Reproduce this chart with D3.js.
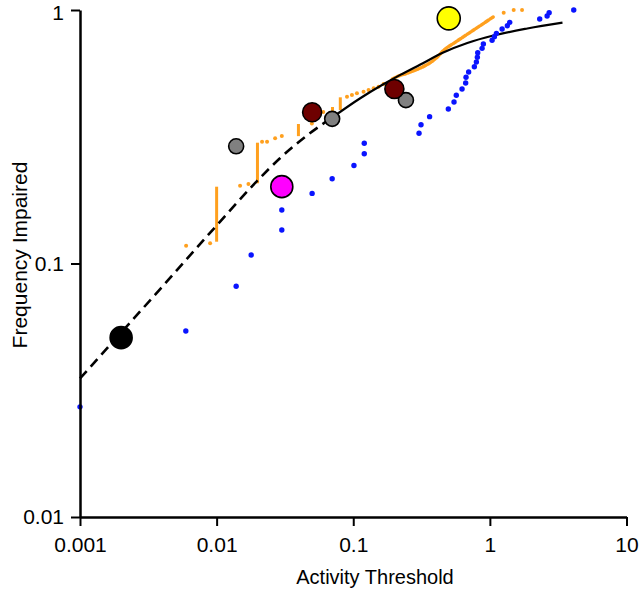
<!DOCTYPE html>
<html>
<head>
<meta charset="utf-8">
<script src="https://cdn.jsdelivr.net/npm/d3@7"></script>
<style>
  body { margin: 0; background: #fff; }
  svg text { font-family: "Liberation Sans", Arial, sans-serif; fill: #000; }
</style>
</head>
<body>
<svg id="chart" width="640" height="590"></svg>
<script>
// tick labels
const xTicks = [0.001, 0.01, 0.1, 1, 10];
const yTicks = [0.01, 0.1, 1];

// fitted curve (dashed part, then solid part)
const modelDashed = [[0.001, 0.0352], [0.00199, 0.0532], [0.00386, 0.0793], [0.01, 0.1412],
  [0.0201, 0.2135], [0.0292, 0.2607], [0.0458, 0.3198], [0.0701, 0.3766]];
const modelSolid = [[0.0701, 0.3766], [0.1125, 0.4488], [0.166, 0.5093], [0.221, 0.5546],
  [0.31, 0.6095], [0.456, 0.6798], [0.684, 0.741], [1.06, 0.793], [1.88, 0.8452], [3.4, 0.891]];

// orange series: isolated dots, vertical runs (x, y0, y1) and the dense upper trail
const orangeDots = [[0.00598, 0.1175], [0.00896, 0.1201], [0.01485, 0.2027], [0.0171, 0.2059],
  [0.0215, 0.302], [0.0234, 0.302], [0.0268, 0.3118], [0.030, 0.3184], [0.0498, 0.357],
  [0.0603, 0.396], [0.09, 0.455], [0.0978, 0.462], [0.1064, 0.469], [0.119, 0.476],
  [0.1295, 0.4835], [0.141, 0.491], [0.1532, 0.498], [0.1667, 0.5105], [0.1814, 0.517],
  [1.262, 0.976], [1.494, 1.0], [1.72, 1.0]];
const orangeSteps = [[0.01, 0.1219, 0.2009], [0.0199, 0.2072, 0.2996], [0.0397, 0.318, 0.355],
  [0.0705, 0.396, 0.4143], [0.0804, 0.403, 0.4524]];
const orangeTrail = [[0.193, 0.534], [0.209, 0.546], [0.2474, 0.563], [0.3096, 0.59],
  [0.3665, 0.62], [0.41, 0.65], [0.4586, 0.693], [0.543, 0.739], [0.643, 0.785],
  [0.761, 0.834], [0.901, 0.886], [1.066, 0.941]];

// blue series
const bluePoints = [[0.001, 0.0272], [0.00595, 0.0542], [0.0139, 0.0813], [0.0179, 0.108],
  [0.030, 0.1355], [0.030, 0.1626], [0.05, 0.189], [0.0701, 0.216], [0.1012, 0.2435],
  [0.1204, 0.271], [0.1204, 0.298], [0.303, 0.3263], [0.3133, 0.3528], [0.3622, 0.3795],
  [0.4966, 0.407], [0.5466, 0.4336], [0.568, 0.4607], [0.6256, 0.488], [0.665, 0.515],
  [0.669, 0.5427], [0.6993, 0.5693], [0.77, 0.5974], [0.7965, 0.6235], [0.81, 0.6507],
  [0.815, 0.6785], [0.877, 0.706], [0.896, 0.734], [1.038, 0.7594], [1.079, 0.785],
  [1.116, 0.809], [1.229, 0.8415], [1.343, 0.867], [1.397, 0.894], [2.316, 0.921],
  [2.624, 0.947], [2.715, 0.976], [4.11, 1.0]];

// large markers: x, y, colour, radius
const markers = [
  [0.002, 0.051, "#000000", 11],
  [0.030, 0.201, "#ff00ff", 11],
  [0.0139, 0.29, "#808080", 7.5],
  [0.0701, 0.372, "#808080", 7.5],
  [0.243, 0.441, "#808080", 7.5],
  [0.05, 0.395, "#6e0000", 9.5],
  [0.2, 0.488, "#6e0000", 9.5],
  [0.5, 0.927, "#ffff00", 11.5]
];

const svg = d3.select('#chart');
const x = d3.scaleLog().domain([0.001, 10]).range([80, 626.5]);
const y = d3.scaleLog().domain([0.01, 1]).range([517, 10]);

const line = d3.line().x(d => x(d[0])).y(d => y(d[1])).curve(d3.curveMonotoneX);

// orange
const orange = '#ffa01e';
svg.append('path').attr('d', line(orangeTrail))
  .attr('fill', 'none').attr('stroke', orange).attr('stroke-width', 3.4)
  .attr('stroke-linecap', 'round').attr('stroke-dasharray', '4,1.5');
svg.selectAll('.osteps').data(orangeSteps).enter().append('line')
  .attr('x1', d => x(d[0])).attr('x2', d => x(d[0]))
  .attr('y1', d => y(d[1])).attr('y2', d => y(d[2]))
  .attr('stroke', orange).attr('stroke-width', 3);
svg.selectAll('.odots').data(orangeDots).enter().append('circle')
  .attr('cx', d => x(d[0])).attr('cy', d => y(d[1])).attr('r', 2)
  .attr('fill', orange);

// model curve, drawn over the orange trail
svg.append('path').attr('d', line(modelDashed))
  .attr('fill', 'none').attr('stroke', '#000').attr('stroke-width', 2.6)
  .attr('stroke-dasharray', '10,6');
svg.append('path').attr('d', line(modelSolid))
  .attr('fill', 'none').attr('stroke', '#000').attr('stroke-width', 2.2);

// blue
svg.selectAll('.bdots').data(bluePoints).enter().append('circle')
  .attr('cx', d => x(d[0])).attr('cy', d => y(d[1])).attr('r', 2.7)
  .attr('fill', '#0a14ff');

// big markers
svg.selectAll('.marker').data(markers).enter().append('circle')
  .attr('cx', d => x(d[0])).attr('cy', d => y(d[1])).attr('r', d => d[3])
  .attr('fill', d => d[2]).attr('stroke', '#000').attr('stroke-width', 1.6);

// axes
const fmt = d => String(d);
const xAxis = svg.append('g').attr('transform', 'translate(0,517)')
  .call(d3.axisBottom(x).tickValues(xTicks).tickFormat(fmt).tickSize(9).tickSizeOuter(0).tickPadding(11));
const yAxis = svg.append('g').attr('transform', 'translate(80,0)')
  .call(d3.axisLeft(y).tickValues(yTicks).tickFormat(fmt).tickSize(9).tickSizeOuter(0).tickPadding(7));
[xAxis, yAxis].forEach(g => {
  g.select('.domain').attr('stroke-width', 2.5);
  g.selectAll('.tick line').attr('stroke-width', 2);
  g.selectAll('text').attr('font-size', 21).attr('font-family', '"Liberation Sans", Arial, sans-serif');
});
// keep the top label inside the page
yAxis.selectAll('.tick text').filter(d => d === 1).attr('dy', '0.44em');

svg.append('text').attr('x', 375).attr('y', 584).attr('text-anchor', 'middle')
  .attr('font-size', 20).text('Activity Threshold');
svg.append('text').attr('transform', 'translate(27,255) rotate(-90)').attr('text-anchor', 'middle')
  .attr('font-size', 21).text('Frequency Impaired');
</script>
</body>
</html>
